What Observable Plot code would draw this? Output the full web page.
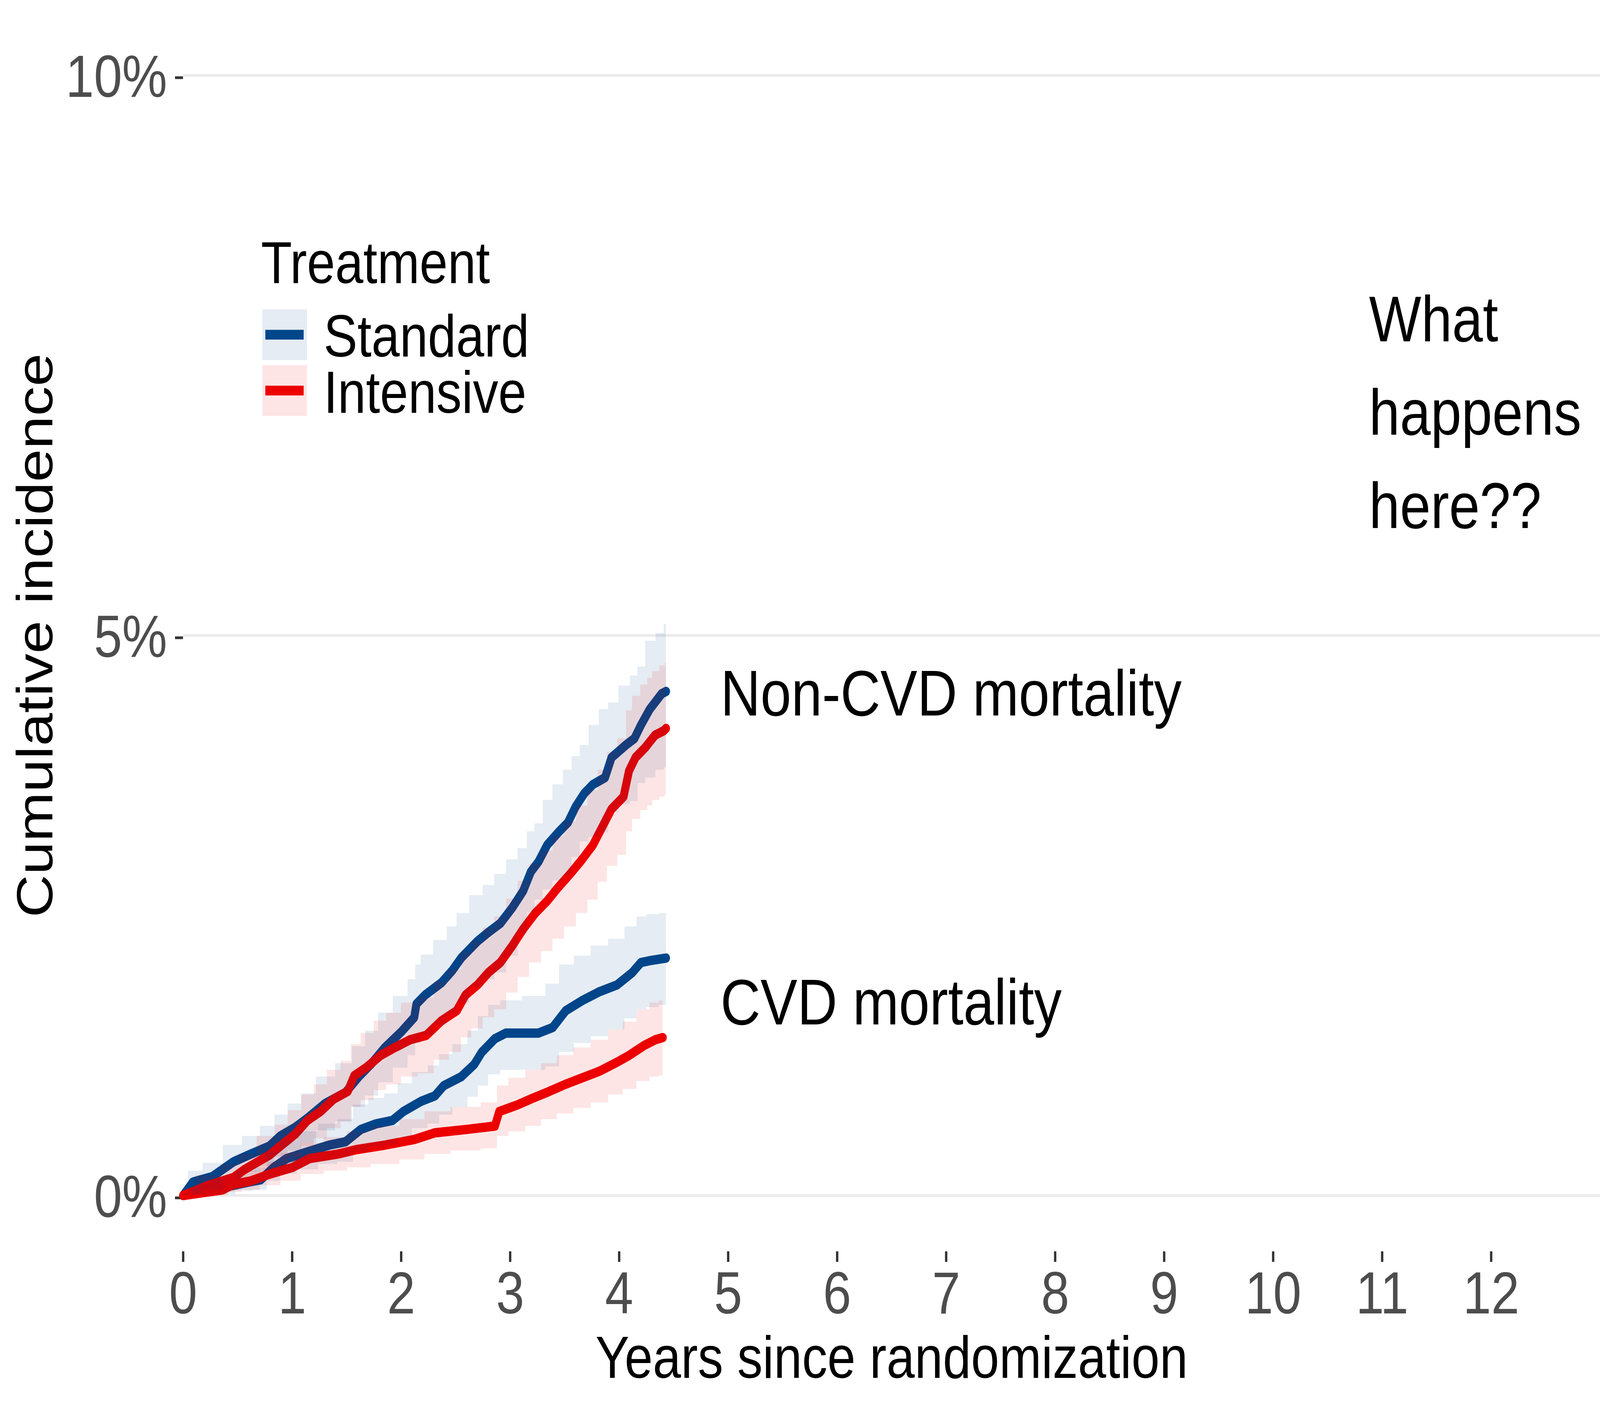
<!DOCTYPE html>
<html>
<head>
<meta charset="utf-8">
<script src="https://cdn.jsdelivr.net/npm/d3@7"></script>
<script src="https://cdn.jsdelivr.net/npm/@observablehq/plot@0.6"></script>
<style>
  html, body { margin: 0; padding: 0; background: #ffffff; overflow: hidden; }
  #wrap { font-family: "Liberation Sans", Arial, sans-serif; }
  #wrap svg { display: block; max-width: none; }
</style>
</head>
<body>
<div id="wrap"></div>
<script>
// ---------------- data ----------------
const treatments = ["Standard", "Intensive"];
const treatmentColors = ["#00468B", "#ED0000"];
const outcomes = ["Non-CVD mortality", "CVD mortality"];

const xTicks = [0, 1, 2, 3, 4, 5, 6, 7, 8, 9, 10, 11, 12];
const yTicks = [0, 5, 10];

// Standard – Non-CVD mortality (cumulative incidence, %)
const stdNonCvdT  = [0, 0.09, 0.27, 0.46, 0.62, 0.79, 0.89, 1.03, 1.14, 1.30, 1.49, 1.61, 1.73, 1.85, 2.00, 2.12, 2.14, 2.22, 2.37, 2.47, 2.55, 2.70, 2.80, 2.91, 3.02, 3.12, 3.19, 3.26, 3.34, 3.44, 3.53, 3.60, 3.68, 3.76, 3.87, 3.93, 4.06, 4.14, 4.20, 4.28, 4.39, 4.43];
const stdNonCvdEst = [0, 0.12, 0.17, 0.30, 0.37, 0.44, 0.53, 0.61, 0.69, 0.82, 0.92, 1.06, 1.18, 1.32, 1.46, 1.59, 1.71, 1.79, 1.90, 2.01, 2.12, 2.27, 2.35, 2.43, 2.57, 2.72, 2.89, 2.98, 3.13, 3.24, 3.33, 3.47, 3.59, 3.67, 3.73, 3.91, 4.02, 4.08, 4.20, 4.34, 4.48, 4.50];
const stdNonCvdHi = [0.02, 0.22, 0.29, 0.45, 0.53, 0.62, 0.72, 0.82, 0.91, 1.06, 1.18, 1.33, 1.47, 1.63, 1.78, 1.93, 2.06, 2.15, 2.28, 2.40, 2.52, 2.68, 2.77, 2.87, 3.00, 3.10, 3.25, 3.32, 3.53, 3.67, 3.80, 3.92, 4.02, 4.20, 4.34, 4.40, 4.55, 4.64, 4.72, 4.95, 5.02, 5.10];
const stdNonCvdLo = [0, 0.02, 0.05, 0.15, 0.21, 0.26, 0.34, 0.40, 0.47, 0.58, 0.66, 0.79, 0.89, 1.01, 1.14, 1.25, 1.36, 1.43, 1.52, 1.62, 1.72, 1.86, 1.93, 1.99, 2.14, 2.34, 2.53, 2.64, 2.73, 2.81, 2.86, 3.02, 3.16, 3.20, 3.24, 3.42, 3.49, 3.52, 3.68, 3.73, 3.80, 3.82];

// Intensive – Non-CVD mortality
const intNonCvdT  = [0, 0.23, 0.46, 0.56, 0.79, 0.89, 1.03, 1.14, 1.26, 1.38, 1.51, 1.57, 1.69, 1.81, 1.92, 2.08, 2.23, 2.37, 2.51, 2.59, 2.70, 2.80, 2.91, 3.02, 3.12, 3.23, 3.34, 3.44, 3.55, 3.66, 3.76, 3.85, 3.93, 4.04, 4.09, 4.15, 4.24, 4.28, 4.33, 4.41, 4.43];
const intNonCvdEst = [0, 0.09, 0.16, 0.23, 0.36, 0.44, 0.55, 0.67, 0.75, 0.86, 0.93, 1.07, 1.15, 1.25, 1.31, 1.39, 1.43, 1.56, 1.65, 1.79, 1.88, 1.99, 2.08, 2.23, 2.38, 2.52, 2.63, 2.75, 2.87, 3.00, 3.13, 3.30, 3.45, 3.56, 3.79, 3.91, 4.00, 4.05, 4.11, 4.15, 4.17];
const intNonCvdHi = [0.01, 0.18, 0.28, 0.37, 0.53, 0.63, 0.76, 0.90, 0.99, 1.12, 1.20, 1.35, 1.45, 1.56, 1.63, 1.72, 1.77, 1.91, 2.02, 2.17, 2.27, 2.39, 2.49, 2.65, 2.81, 2.96, 3.08, 3.21, 3.34, 3.48, 3.62, 3.80, 3.96, 4.08, 4.33, 4.46, 4.56, 4.62, 4.68, 4.73, 4.75];
const intNonCvdLo = [0, 0.01, 0.05, 0.10, 0.20, 0.26, 0.34, 0.44, 0.51, 0.60, 0.66, 0.79, 0.85, 0.94, 0.99, 1.06, 1.09, 1.21, 1.28, 1.41, 1.49, 1.59, 1.66, 1.81, 1.95, 2.08, 2.18, 2.29, 2.40, 2.52, 2.64, 2.80, 2.94, 3.04, 3.25, 3.36, 3.44, 3.48, 3.53, 3.56, 3.58];

// Standard – CVD mortality
const stdCvdT  = [0, 0.17, 0.36, 0.60, 0.71, 0.83, 0.95, 1.14, 1.34, 1.49, 1.63, 1.77, 1.92, 2.02, 2.18, 2.31, 2.39, 2.55, 2.67, 2.74, 2.86, 2.96, 3.26, 3.39, 3.51, 3.66, 3.82, 3.98, 4.12, 4.20, 4.30, 4.43];
const stdCvdEst = [0, 0.04, 0.07, 0.12, 0.14, 0.25, 0.33, 0.39, 0.45, 0.48, 0.59, 0.64, 0.67, 0.75, 0.84, 0.89, 0.98, 1.06, 1.17, 1.28, 1.40, 1.45, 1.45, 1.50, 1.65, 1.74, 1.82, 1.88, 1.99, 2.08, 2.10, 2.12];
const stdCvdHi = [0.01, 0.10, 0.15, 0.22, 0.25, 0.39, 0.49, 0.57, 0.64, 0.68, 0.81, 0.87, 0.91, 1.00, 1.10, 1.16, 1.26, 1.35, 1.47, 1.60, 1.70, 1.74, 1.78, 1.89, 2.06, 2.14, 2.23, 2.29, 2.40, 2.49, 2.51, 2.52];
const stdCvdLo = [0, 0, 0.01, 0.04, 0.05, 0.13, 0.19, 0.23, 0.28, 0.30, 0.39, 0.43, 0.45, 0.52, 0.60, 0.64, 0.72, 0.79, 0.88, 0.98, 1.08, 1.12, 1.12, 1.15, 1.28, 1.36, 1.42, 1.48, 1.58, 1.66, 1.68, 1.70];

// Intensive – CVD mortality
const intCvdT  = [0, 0.36, 0.46, 0.62, 0.79, 1.00, 1.16, 1.42, 1.59, 1.85, 2.12, 2.31, 2.60, 2.86, 2.90, 3.07, 3.21, 3.36, 3.50, 3.66, 3.82, 3.98, 4.09, 4.23, 4.33, 4.40];
const intCvdEst = [0, 0.05, 0.10, 0.13, 0.19, 0.25, 0.33, 0.37, 0.41, 0.45, 0.50, 0.56, 0.59, 0.62, 0.75, 0.81, 0.87, 0.93, 0.99, 1.05, 1.11, 1.19, 1.25, 1.34, 1.39, 1.41];
const intCvdHi = [0.01, 0.11, 0.18, 0.22, 0.30, 0.38, 0.47, 0.52, 0.57, 0.62, 0.68, 0.75, 0.79, 0.83, 0.98, 1.05, 1.12, 1.18, 1.25, 1.32, 1.39, 1.48, 1.55, 1.66, 1.72, 1.74];
const intCvdLo = [0, 0, 0.03, 0.05, 0.09, 0.13, 0.19, 0.22, 0.25, 0.28, 0.32, 0.37, 0.40, 0.42, 0.53, 0.57, 0.62, 0.68, 0.73, 0.78, 0.83, 0.90, 0.95, 1.02, 1.06, 1.07];

// Text annotations (data coordinates: years, %)
const labelText = ["Non-CVD mortality", "CVD mortality"];
const labelX = [4.93, 4.93];
const labelY = [4.472, 1.714];
const questionText = "What\nhappens\nhere??";
const questionX = 10.88;
const questionY = 7.06;

const xTitle = "Years since randomization";
const yTitle = "Cumulative incidence";
const legendTitle = "Treatment";

// ---------------- build tables ----------------
function series(treatment, outcome, t, est, lo, hi) {
  return t.map((d, i) => ({ t: d, est: est[i], lo: lo[i], hi: hi[i], treatment, outcome, key: treatment + "|" + outcome }));
}
const rows = [
  ...series(treatments[0], outcomes[0], stdNonCvdT, stdNonCvdEst, stdNonCvdLo, stdNonCvdHi),
  ...series(treatments[0], outcomes[1], stdCvdT, stdCvdEst, stdCvdLo, stdCvdHi),
  ...series(treatments[1], outcomes[0], intNonCvdT, intNonCvdEst, intNonCvdLo, intNonCvdHi),
  ...series(treatments[1], outcomes[1], intCvdT, intCvdEst, intCvdLo, intCvdHi)
];
const labels = labelText.map((s, i) => ({ text: s, x: labelX[i], y: labelY[i] }));
const question = [{ text: questionText, x: questionX, y: questionY }];

const FONT = "'Liberation Sans', Arial, sans-serif";
const W = 4800, H = 3600;

const chart = Plot.plot({
  width: W,
  height: H,
  marginLeft: 549,
  marginRight: 0,
  marginTop: 49,
  marginBottom: 396,
  style: { fontFamily: FONT, background: "#ffffff", color: "#000000", overflow: "visible" },
  x: { domain: [0, 13] },
  y: { domain: [-0.5, 10.5] },
  color: { domain: treatments, range: treatmentColors },
  marks: [
    Plot.gridY(yTicks, { stroke: "#EBEBEB", strokeOpacity: 1, strokeWidth: 7 }),
    Plot.axisY(yTicks, {
      tickSize: 24, tickPadding: 24, fontSize: 152, fill: "#4D4D4D",
      stroke: "#333333", strokeWidth: 7, tickFormat: d => d + "%", label: null, dy: 6
    }),
    Plot.axisX(xTicks, {
      tickSize: 27, tickPadding: 24, fontSize: 152, fill: "#4D4D4D",
      stroke: "#333333", strokeWidth: 7, tickFormat: d => String(d), label: null
    }),
    Plot.line(rows, {
      x: "t", y: "est", z: "key", stroke: "treatment",
      curve: "linear", strokeWidth: 24
    }),
    Plot.areaY(rows, {
      x: "t", y1: "lo", y2: "hi", z: "key", fill: "treatment",
      fillOpacity: 0.1, curve: "step"
    }),
    Plot.text(labels, {
      x: "x", y: "y", text: "text", textAnchor: "start", lineAnchor: "middle",
      fontSize: 166, fill: "#000000"
    }),
    Plot.text(question, {
      x: "x", y: "y", text: "text", textAnchor: "start", lineAnchor: "middle",
      fontSize: 166, lineHeight: 1.44, fill: "#000000"
    }),
    Plot.text([xTitle], {
      frameAnchor: "bottom", dy: 323, lineAnchor: "bottom", textAnchor: "middle",
      fontSize: 152, fill: "#000000"
    }),
    Plot.text([yTitle], {
      frameAnchor: "left", dx: -392, rotate: -90, lineAnchor: "bottom", textAnchor: "middle",
      fontSize: 152, fill: "#000000"
    })
  ]
});

// ---------------- legend (drawn inside the same SVG, upper left of panel) ----------------
const svg = d3.select(chart);
const leg = svg.append("g").attr("font-family", FONT).attr("text-anchor", "start");
leg.append("text").attr("x", 783).attr("y", 725).attr("font-size", 152)
  .attr("fill", "#000000").text(legendTitle);
treatments.forEach((tr, i) => {
  const top = 792 + i * 143;
  leg.append("rect").attr("x", 787).attr("y", top).attr("width", 134).attr("height", 130)
    .attr("fill", treatmentColors[i]).attr("fill-opacity", 0.1);
  leg.append("line").attr("x1", 796).attr("x2", 911).attr("y1", top + 65).attr("y2", top + 65)
    .attr("stroke", treatmentColors[i]).attr("stroke-width", 25);
  leg.append("text").attr("x", 971).attr("y", 913 + i * 144).attr("font-size", 152)
    .attr("fill", "#000000").text(tr);
});

// The browser viewport may be narrower than the requested 4800×3600 window;
// stretch the 4800×3600 drawing so it fills exactly the visible frame.
const vw = window.innerWidth || document.documentElement.clientWidth || W;
const vh = window.innerHeight || document.documentElement.clientHeight || H;
chart.setAttribute("viewBox", `0 0 ${W} ${H}`);
chart.setAttribute("preserveAspectRatio", "none");
chart.setAttribute("width", vw);
chart.setAttribute("height", vh);
chart.style.width = vw + "px";
chart.style.height = vh + "px";

document.getElementById("wrap").appendChild(chart);
</script>
</body>
</html>
